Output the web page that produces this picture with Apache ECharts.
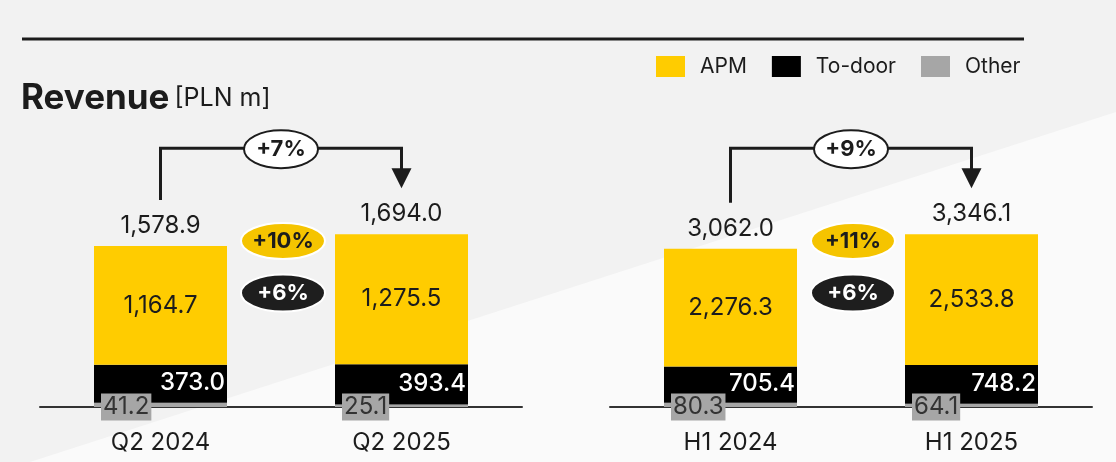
<!DOCTYPE html>
<html><head><meta charset="utf-8">
<script src="https://cdn.jsdelivr.net/npm/echarts@6/dist/echarts.min.js"></script>
<style>html,body{margin:0;padding:0;background:#f2f2f2}#c{width:1116px;height:462px}</style>
</head><body><div id="c"></div>
<script>
const categoriesQ = ['Q2 2024', 'Q2 2025'];
const categoriesH = ['H1 2024', 'H1 2025'];
const apmQ = [1164.7, 1275.5];
const doorQ = [373.0, 393.4];
const otherQ = [41.2, 25.1];
const totalQ = [1578.9, 1694.0];
const apmH = [2276.3, 2533.8];
const doorH = [705.4, 748.2];
const otherH = [80.3, 64.1];
const totalH = [3062.0, 3346.1];
const growthTotal = ['+7%', '+9%'];
const growthAPM = ['+10%', '+11%'];
const growthDoor = ['+6%', '+6%'];

const FONT = 'Inter';
const INK = '#1c1c1c';
const YEL = '#ffcc00';
const GRAY = '#a6a6a6';
const fmt = v => v.toLocaleString('en-US', {minimumFractionDigits: 1, maximumFractionDigits: 1});

const chart = echarts.init(document.getElementById('c'));

function seriesFor(idx, apm, door, other, total) {
  const st = 'g' + idx;
  return [
    {name: 'Other', type: 'bar', stack: st, xAxisIndex: idx, yAxisIndex: idx, barWidth: 133,
     data: other, itemStyle: {color: GRAY},
     label: {show: true, position: [7, '100%'], verticalAlign: 'middle', align: 'left',
       formatter: p => fmt(p.value), fontFamily: FONT, fontSize: 24, color: '#333',
       backgroundColor: GRAY, padding: [2, 2, 1, 2]}},
    {name: 'To-door', type: 'bar', stack: st, xAxisIndex: idx, yAxisIndex: idx, barWidth: 133,
     data: door, itemStyle: {color: '#000'},
     label: {show: true, position: 'insideRight', distance: 2, offset: [0, -1],
       formatter: p => fmt(p.value), fontFamily: FONT, fontSize: 24, fontWeight: 500, color: '#fff'}},
    {name: 'APM', type: 'bar', stack: st, xAxisIndex: idx, yAxisIndex: idx, barWidth: 133,
     data: apm, itemStyle: {color: YEL},
     label: {show: true, position: 'inside',
       formatter: p => fmt(p.value), fontFamily: FONT, fontSize: 24, color: INK}},
    {name: 'Total', type: 'scatter', xAxisIndex: idx, yAxisIndex: idx, data: total,
     symbolSize: 1, itemStyle: {color: 'rgba(0,0,0,0)', opacity: 1}, silent: true,
     label: {show: true, position: 'top', distance: 8, opacity: 1,
       formatter: p => fmt(p.value), fontFamily: FONT, fontSize: 24, color: INK}}
  ];
}

const axisX = (idx, cats) => ({type: 'category', gridIndex: idx, data: cats,
  axisLine: {lineStyle: {color: '#333', width: 2}}, axisTick: {show: false},
  axisLabel: {fontFamily: FONT, fontSize: 24, color: INK, margin: 24}});
const axisY = (idx, max) => ({type: 'value', gridIndex: idx, min: 0, max: max, show: false,
  splitLine: {show: false}});

chart.setOption({
  backgroundColor: '#f2f2f2',
  animation: false,
  title: {left: 21, top: 81, padding: 0, text: '{a|Revenue} {b|[PLN m]}',
    textStyle: {rich: {
      a: {fontFamily: FONT, fontSize: 35, fontWeight: 'bold', color: INK, letterSpacing: -1},
      b: {fontFamily: FONT, fontSize: 25, fontWeight: 'normal', color: INK}}}},
  legend: {left: 656, top: 56, padding: 0, itemWidth: 29, itemHeight: 21, itemGap: 25,
    icon: 'rect', data: ['APM', 'To-door', 'Other'],
    textStyle: {fontFamily: FONT, fontSize: 21, color: INK, padding: [0, 0, 0, 10]}},
  grid: [
    {left: 40, width: 482, top: 203, height: 204},
    {left: 610, width: 482, top: 203, height: 204}
  ],
  xAxis: [axisX(0, categoriesQ), axisX(1, categoriesH)],
  yAxis: [axisY(0, 2000), axisY(1, 3950)],
  series: [...seriesFor(0, apmQ, doorQ, otherQ, totalQ), ...seriesFor(1, apmH, doorH, otherH, totalH)]
});

function annotations() {
  const g = [];
  g.push({type: 'polygon', z: -10, silent: true,
    shape: {points: [[30, 462], [1116, 112], [1116, 462]]}, style: {fill: '#fafafa'}});
  g.push({type: 'line', shape: {x1: 22, y1: 39, x2: 1024, y2: 39}, style: {stroke: INK, lineWidth: 3}});
  const totals = [totalQ, totalH];
  for (let i = 0; i < 2; i++) {
    const p1 = chart.convertToPixel({gridIndex: i}, [0, totals[i][0]]);
    const p2 = chart.convertToPixel({gridIndex: i}, [1, totals[i][1]]);
    const base = chart.convertToPixel({gridIndex: i}, [0, 0])[1];
    const by = Math.min(p1[1], p2[1]) - 86;
    const mx = (p1[0] + p2[0]) / 2 + 2;
    g.push({type: 'polyline', z: 5, shape: {points: [[p1[0], p1[1] - 46], [p1[0], by], [p2[0], by], [p2[0], p2[1] - 64]]},
      style: {stroke: INK, lineWidth: 3, fill: null}});
    g.push({type: 'polygon', z: 5, shape: {points: [[p2[0] - 10, p2[1] - 66], [p2[0] + 10, p2[1] - 66], [p2[0], p2[1] - 46]]},
      style: {fill: INK}});
    g.push({type: 'ellipse', z: 6, shape: {cx: mx - 2, cy: by + 1, rx: 37, ry: 19},
      style: {fill: '#fff', stroke: INK, lineWidth: 2}});
    g.push({type: 'text', z: 7, x: mx - 2, y: by + 1, style: {text: growthTotal[i], fontFamily: FONT, fontSize: 22,
      fontWeight: 'bold', fill: INK, align: 'center', verticalAlign: 'middle'}});
    g.push({type: 'ellipse', z: 6, shape: {cx: mx, cy: base - 166, rx: 42, ry: 18},
      style: {fill: '#f5c400', stroke: '#fff', lineWidth: 2}});
    g.push({type: 'text', z: 7, x: mx, y: base - 166, style: {text: growthAPM[i], fontFamily: FONT, fontSize: 22,
      fontWeight: 'bold', fill: INK, align: 'center', verticalAlign: 'middle'}});
    g.push({type: 'ellipse', z: 6, shape: {cx: mx, cy: base - 114, rx: 42, ry: 18.5},
      style: {fill: '#1e1e1e', stroke: '#fff', lineWidth: 2}});
    g.push({type: 'text', z: 7, x: mx, y: base - 114, style: {text: growthDoor[i], fontFamily: FONT, fontSize: 22,
      fontWeight: 'bold', fill: '#fff', align: 'center', verticalAlign: 'middle'}});
  }
  chart.setOption({graphic: g});
}
annotations();
</script></body></html>
